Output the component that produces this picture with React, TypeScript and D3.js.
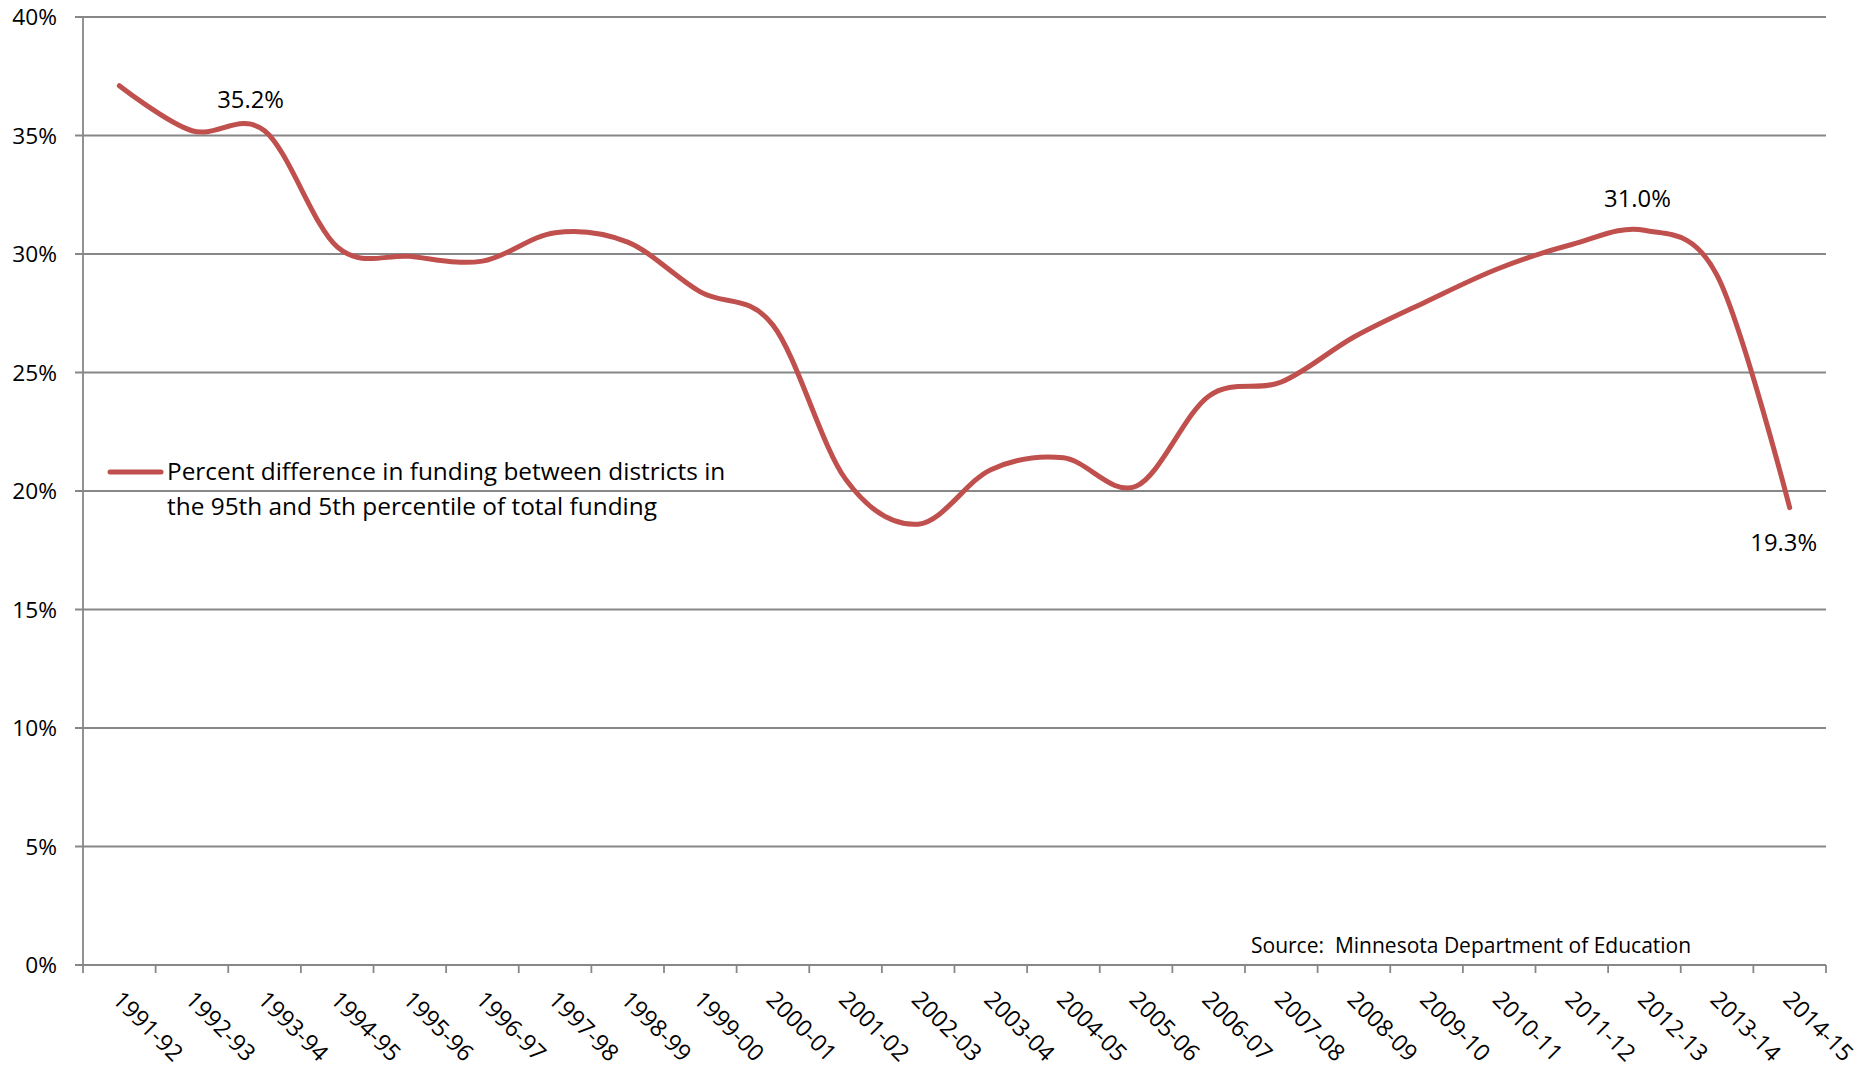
import React from "react";
import * as d3 from "d3";

const categories = [
  "1991-92", "1992-93", "1993-94", "1994-95", "1995-96", "1996-97", "1997-98", "1998-99",
  "1999-00", "2000-01", "2001-02", "2002-03", "2003-04", "2004-05", "2005-06", "2006-07",
  "2007-08", "2008-09", "2009-10", "2010-11", "2011-12", "2012-13", "2013-14", "2014-15",
];
const values = [
  37.1, 35.2, 35.2, 30.3, 29.9, 29.7, 30.9, 30.5,
  28.4, 27.0, 20.5, 18.6, 20.9, 21.4, 20.2, 24.0,
  24.6, 26.5, 28.0, 29.4, 30.4, 31.0, 29.1, 19.3,
];
const yTicks = [0, 5, 10, 15, 20, 25, 30, 35, 40];
const seriesName = [
  "Percent difference in funding between districts in",
  "the 95th and 5th percentile of total funding",
];
const annotations = [
  { index: 2, text: "35.2%", dx: -14, dy: -23 },
  { index: 21, text: "31.0%", dx: -7, dy: -23 },
  { index: 23, text: "19.3%", dx: -6, dy: 43 },
];
const sourceText = "Source:  Minnesota Department of Education";

const W = 1876;
const H = 1068;
const FONT = "'Open Sans', 'Noto Sans', sans-serif";
const LINE_COLOR = "#c0504d";
const GRID_COLOR = "#878787";

export default function App() {
  const x = d3.scaleBand<string>().domain(categories).range([83, 1826]).paddingInner(0).paddingOuter(0);
  const y = d3.scaleLinear().domain([0, 40]).range([965, 17]);
  const bw = x.bandwidth();
  const cx = (i: number) => (x(categories[i]) as number) + bw / 2;

  const line = d3
    .line<number>()
    .x((_, i) => cx(i))
    .y((d) => y(d))
    .curve(d3.curveCardinal.tension(0));
  const path = line(values) || "";

  const boundaries = categories.map((c) => x(c) as number).concat([x.range()[1]]);

  return (
    <svg
      width={W}
      height={H}
      style={{ position: "absolute", left: 0, top: 0, background: "#fff" }}
      fontFamily={FONT}
    >
      <rect x={0} y={0} width={W} height={H} fill="#fff" />
      {/* gridlines */}
      {yTicks.map((t) => (
        <line key={"g" + t} x1={75} x2={1826} y1={y(t)} y2={y(t)} stroke={GRID_COLOR} strokeWidth={1.8} />
      ))}
      {/* y axis */}
      <line x1={83} x2={83} y1={y(40)} y2={y(0)} stroke={GRID_COLOR} strokeWidth={1.8} />
      {yTicks.map((t) => (
        <text
          key={"yl" + t}
          x={57}
          y={y(t)}
          dy="0.36em"
          textAnchor="end"
          fontSize={22.7}
          fill="#000"
        >
          {t + "%"}
        </text>
      ))}
      {/* x axis ticks */}
      {boundaries.map((b, i) => (
        <line key={"xt" + i} x1={b} x2={b} y1={y(0)} y2={y(0) + 8} stroke={GRID_COLOR} strokeWidth={1.8} />
      ))}
      {categories.map((c, i) => {
        const ox = cx(i) - 8;
        const oy = 1001;
        return (
          <text
            key={"xl" + c}
            x={ox}
            y={oy}
            transform={`rotate(45 ${ox} ${oy})`}
            textAnchor="start"
            fontSize={23.3}
            fill="#000"
          >
            {c}
          </text>
        );
      })}
      {/* series line */}
      <path d={path} fill="none" stroke={LINE_COLOR} strokeWidth={5} strokeLinecap="round" strokeLinejoin="round" />
      {/* data labels */}
      {annotations.map((a) => (
        <text
          key={"a" + a.index}
          x={cx(a.index) + a.dx}
          y={y(values[a.index]) + a.dy}
          textAnchor="middle"
          fontSize={23.8}
          fill="#000"
        >
          {a.text}
        </text>
      ))}
      {/* legend */}
      <line x1={110} x2={161} y1={472} y2={472} stroke={LINE_COLOR} strokeWidth={5} strokeLinecap="round" />
      {seriesName.map((s, i) => (
        <text key={"lg" + i} x={167} y={480 + i * 35} fontSize={24.4} fill="#000">
          {s}
        </text>
      ))}
      {/* source */}
      <text x={1251} y={953} fontSize={21} fill="#000" style={{ whiteSpace: "pre" }}>
        {sourceText}
      </text>
    </svg>
  );
}
